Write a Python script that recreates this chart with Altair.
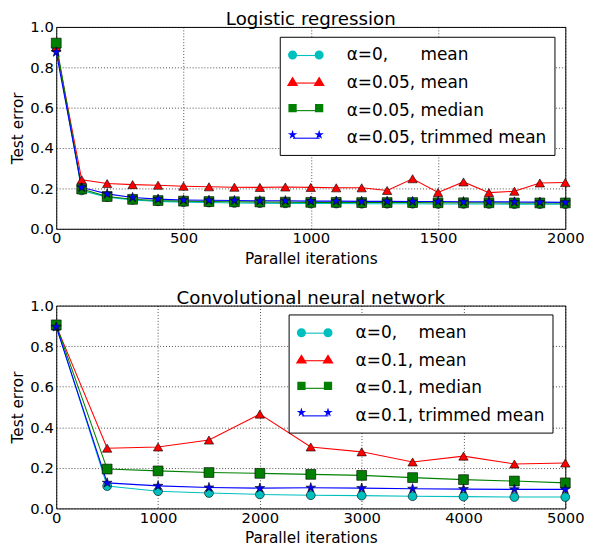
import altair as alt
import pandas as pd

NB = "\u00a0"

# ---------------- data: logistic regression ----------------
lr_iters = [0, 100, 200, 300, 400, 500, 600, 700, 800, 900, 1000,
            1100, 1200, 1300, 1400, 1500, 1600, 1700, 1800, 1900, 2000]
lr_labels = ["α=0," + NB * 5 + " mean", "α=0.05, mean", "α=0.05, median", "α=0.05, trimmed mean"]
lr_a0_mean = [0.90, 0.190, 0.157, 0.143, 0.136, 0.132, 0.130, 0.128, 0.127, 0.126, 0.125,
              0.125, 0.124, 0.124, 0.124, 0.123, 0.123, 0.123, 0.122, 0.122, 0.122]
lr_mean = [0.90, 0.243, 0.224, 0.219, 0.216, 0.211, 0.208, 0.206, 0.205, 0.207, 0.205,
           0.203, 0.203, 0.190, 0.248, 0.180, 0.232, 0.179, 0.186, 0.227, 0.229]
lr_median = [0.92, 0.197, 0.160, 0.146, 0.140, 0.137, 0.135, 0.134, 0.133, 0.132, 0.131,
             0.131, 0.130, 0.130, 0.130, 0.129, 0.129, 0.129, 0.128, 0.128, 0.128]
lr_trimmed = [0.875, 0.205, 0.173, 0.155, 0.147, 0.143, 0.141, 0.140, 0.139, 0.139, 0.137,
              0.137, 0.136, 0.136, 0.135, 0.135, 0.134, 0.134, 0.133, 0.132, 0.131]

# ---------------- data: CNN ----------------
cnn_iters = [0, 500, 1000, 1500, 2000, 2500, 3000, 3500, 4000, 4500, 5000]
cnn_labels = ["α=0," + NB * 3 + " mean", "α=0.1, mean", "α=0.1, median", "α=0.1, trimmed mean"]
cnn_a0_mean = [0.90, 0.110, 0.085, 0.076, 0.069, 0.065, 0.063, 0.060, 0.058, 0.056, 0.056]
cnn_mean = [0.90, 0.297, 0.303, 0.337, 0.465, 0.303, 0.279, 0.229, 0.258, 0.219, 0.224]
cnn_median = [0.905, 0.194, 0.185, 0.177, 0.173, 0.168, 0.163, 0.152, 0.142, 0.135, 0.126]
cnn_trimmed = [0.895, 0.126, 0.111, 0.103, 0.100, 0.102, 0.100, 0.097, 0.095, 0.094, 0.094]

colors = ["#00BFBF", "#FF0000", "#008000", "#0000FF"]
FONT = "DejaVu Sans"

# ---------------- marker shapes ----------------
STAR = ("M0,-1L0.2234,-0.3074L0.9511,-0.309L0.3614,0.1174L0.5878,0.809L0,0.38"
        "L-0.5878,0.809L-0.3614,0.1174L-0.9511,-0.309L-0.2234,-0.3074Z")
plot_shapes = ["circle", "triangle-up", "square", STAR]
plot_sizes = [80, 110, 75, 95]


def circ(cx, r):
    return f"M{cx + r},0A{r},{r} 0 1,1 {cx - r},0A{r},{r} 0 1,1 {cx + r},0Z"


def tri(cx, r):
    return f"M{cx},{-r}L{cx + r * 1.1},{r * 0.85}L{cx - r * 1.1},{r * 0.85}Z"


def sq(cx, r):
    return f"M{cx - r},{-r}L{cx + r},{-r}L{cx + r},{r}L{cx - r},{r}Z"


def star(cx, r):
    pts = [(0, -1), (0.2234, -0.3074), (0.9511, -0.309), (0.3614, 0.1174), (0.5878, 0.809),
           (0, 0.38), (-0.5878, 0.809), (-0.3614, 0.1174), (-0.9511, -0.309), (-0.2234, -0.3074)]
    s = "M" + "L".join(f"{cx + x * r:.4f},{y * r:.4f}" for x, y in pts) + "Z"
    return s


D = 1.35
legend_marker_paths = [
    circ(-D, 0.46) + circ(D, 0.46),
    tri(-D, 0.52) + tri(D, 0.52),
    sq(-D, 0.42) + sq(D, 0.42),
    star(-D, 0.5) + star(D, 0.5),
]
LEGEND_LINE = f"M{-D},0L{D},0"

LEG_COMMON = dict(
    orient="none", title=None, symbolSize=400, symbolOffset=8, labelOffset=30,
    padding=8, rowPadding=8, labelFont=FONT, labelFontSize=17.2, labelLimit=400,
)


def panel(iters, labels, series, title, xmax, xstep, lx, ly, h):
    rows = []
    for lab, vals in zip(labels, series):
        for it, v in zip(iters, vals):
            rows.append({"iter": it, "err": v, "series": lab})
    df = pd.DataFrame(rows)

    x = alt.X("iter:Q", scale=alt.Scale(domain=[0, xmax], nice=False, zero=False),
              axis=alt.Axis(values=list(range(0, xmax + 1, xstep)), title="Parallel iterations",
                            format="d", labelFlush=False, labelPadding=2, titlePadding=6))
    y = alt.Y("err:Q", scale=alt.Scale(domain=[0, 1], nice=False),
              axis=alt.Axis(values=[0, 0.2, 0.4, 0.6, 0.8, 1.0], format=".1f", title="Test error",
                            labelFlush=False, labelPadding=3, titlePadding=4))

    lines = alt.Chart(df).mark_line(strokeWidth=1.1).encode(
        x=x, y=y,
        color=alt.Color("series:N", scale=alt.Scale(domain=labels, range=colors),
                        legend=alt.Legend(legendX=lx, legendY=ly, symbolType=LEGEND_LINE,
                                          symbolStrokeWidth=1.1, fillColor="white",
                                          strokeColor="black", **LEG_COMMON)),
        detail="series:N",
    )
    pts = alt.Chart(df).mark_point(filled=True, opacity=1, stroke="black", strokeWidth=0.6).encode(
        x=x, y=y,
        color=alt.Color("series:N", scale=alt.Scale(domain=labels, range=colors), legend=None),
        shape=alt.Shape("series:N", scale=alt.Scale(domain=labels, range=plot_shapes), legend=None),
        size=alt.Size("series:N", scale=alt.Scale(domain=labels, range=plot_sizes), legend=None),
    )
    leg_props = dict(legendX=lx, legendY=ly, symbolStrokeColor="black", symbolStrokeWidth=0.6,
                     symbolOpacity=1, labelExpr="'" + NB + "'", **LEG_COMMON)
    leg = alt.Chart(df).mark_point(filled=True, opacity=0, stroke="black", strokeWidth=0.6).encode(
        x=x, y=y,
        color=alt.Color("series:N", scale=alt.Scale(domain=labels, range=colors),
                        legend=alt.Legend(**leg_props)),
        shape=alt.Shape("series:N", scale=alt.Scale(domain=labels, range=legend_marker_paths),
                        legend=alt.Legend(**leg_props)),
    )
    return alt.layer(lines, pts, leg).resolve_scale(
        color="independent", shape="independent", size="independent"
    ).resolve_legend(color="independent", shape="independent", size="independent").properties(
        width=517, height=h,
        title=alt.TitleParams(title, fontSize=18.5, font=FONT, fontWeight="normal", offset=-9,
                              anchor="middle", color="black"),
    )


top = panel(lr_iters, lr_labels, [lr_a0_mean, lr_mean, lr_median, lr_trimmed],
            "Logistic regression", 2000, 500, 227, 10, 205)
bottom = panel(cnn_iters, cnn_labels, [cnn_a0_mean, cnn_mean, cnn_median, cnn_trimmed],
               "Convolutional neural network", 5000, 1000, 236, 9, 206)

chart = alt.vconcat(top, bottom, spacing=22).resolve_scale(
    color="independent", shape="independent", size="independent"
).resolve_legend(color="independent", shape="independent", size="independent").properties(
    padding={"left": 2, "top": -2, "right": 0, "bottom": 0}
).configure_view(
    stroke="black", strokeWidth=1
).configure_axis(
    grid=True, gridColor="black", gridDash=[1, 2], gridOpacity=1, gridWidth=0.7,
    ticks=False, tickSize=0, domain=False, labelFont=FONT, labelFontSize=15, labelColor="black",
    titleFont=FONT, titleFontSize=15.5, titleFontWeight="normal", titleColor="black",
)

chart.save("out.html", embed_options={"renderer": "svg", "actions": False})
